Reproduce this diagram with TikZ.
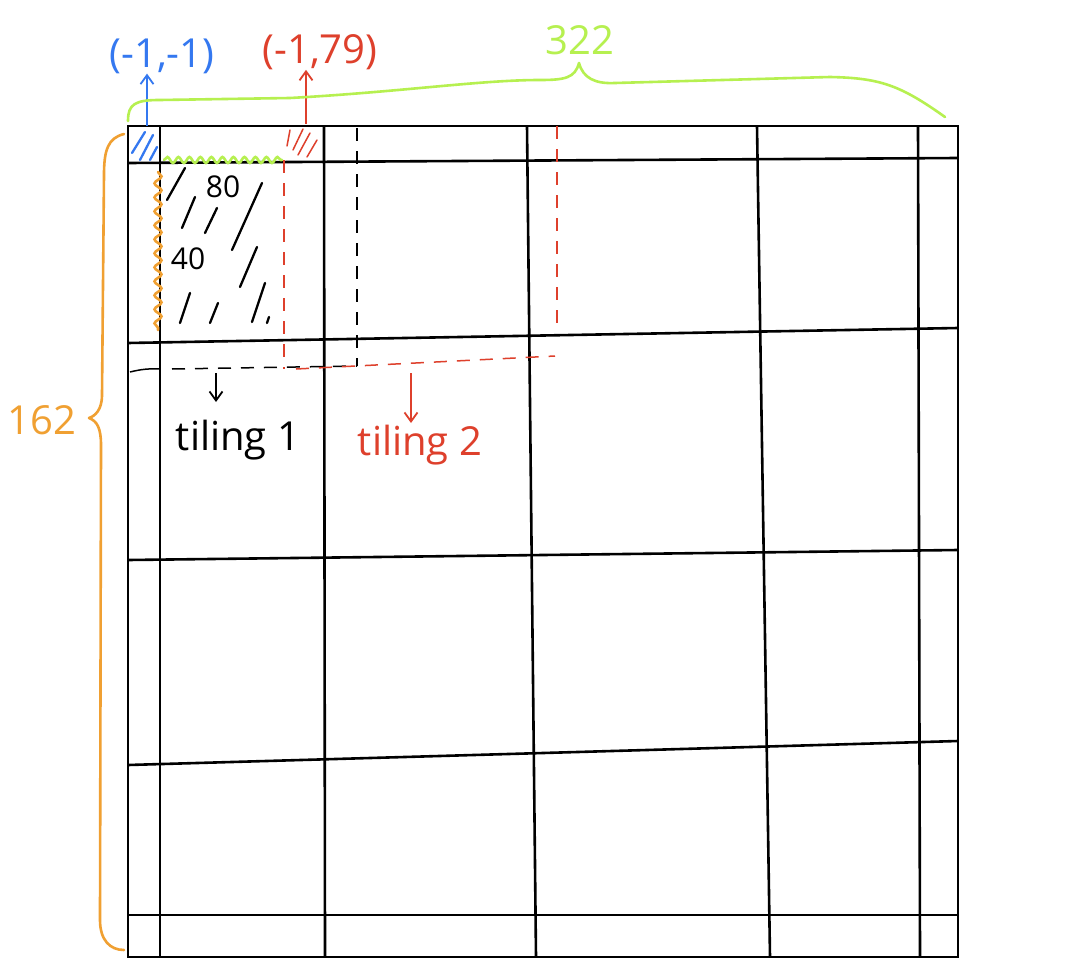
\documentclass[tikz,border=0pt]{standalone}
\usepackage{fontspec}
\setmainfont{Open Sans}
\usetikzlibrary{decorations.pathmorphing,arrows.meta}
\definecolor{hblue}{RGB}{52,120,240}
\definecolor{hred}{RGB}{222,64,44}
\definecolor{hgreen}{RGB}{182,240,80}
\definecolor{horange}{RGB}{240,160,50}
\tikzset{
  grid/.style={line width=2.6pt,black},
  hatch/.style={line width=2.3pt,line cap=round},
  dsh/.style={line width=1.5pt,dash pattern=on 13pt off 10pt},
  brace/.style={line width=2.6pt,line cap=round,line join=round},
  wavy/.style={line width=2.6pt,line cap=round,decorate,decoration={snake,amplitude=3pt,segment length=11pt}},
  arr/.style={line width=1.8pt,-{Straight Barb[length=9pt,width=13pt]}},
  lbl/.style={font=\fontsize{40}{44}\selectfont,inner sep=0pt}
}
\begin{document}
\begin{tikzpicture}[x=1pt,y=-1pt]
\useasboundingbox (0,0) rectangle (1081,979);
\fill[white] (0,0) rectangle (1081,979);
% grid
\draw[grid] (128,126) rectangle (958,957);
\draw[grid] (160,126) -- (160,957);
\draw[grid] (324,126) -- (325,957);
\draw[grid] (527,126) -- (536,957);
\draw[grid] (757,126) -- (770,957);
\draw[grid] (918,126) -- (920,957);
\draw[grid] (128,163) -- (958,158);
\draw[grid] (128,343) -- (958,328);
\draw[grid] (128,560) -- (958,550);
\draw[grid] (128,765) -- (958,741);
\draw[grid] (128,915) -- (958,915);
% blue hatch
\draw[hatch,hblue] (132,153) -- (145,132) (140,160) -- (153,135) (150,160) -- (157,147);
% red hatch
\draw[hatch,hred,line width=1.5pt] (287,146) -- (290,130) (293,150) -- (303,129) (298,155) -- (310,133) (307,157) -- (317,140);
% black hatch in tile 1
\draw[hatch] (167,200) -- (185,168) (182,228) -- (195,197) (205,233) -- (217,208)
  (232,250) -- (262,183) (240,287) -- (257,247) (180,323) -- (190,293)
  (210,323) -- (218,303) (252,322) -- (265,283) (267,323) -- (269,317);
\node[lbl,font=\fontsize{30}{34}\selectfont] (n80) at (223,187) {80};
\node[lbl,font=\fontsize{30}{34}\selectfont] (n40) at (188,259) {40};
% wavy edges
\draw[wavy,hgreen] (164,160) -- (282,160);
\draw[wavy,horange,decoration={snake,amplitude=3.5pt,segment length=14pt}] (158,172) -- (158,330);
% black dashed tiling 1
\draw[dsh] (357,128) -- (357,366);
\draw[dsh] (172,369) -- (357,366);
\draw[line width=1.5pt] (130,372) to[bend left=8] (160,369);
% red dashed tiling 2
\draw[dsh,hred] (284,160) -- (284,369);
\draw[dsh,hred] (296,369) -- (555,356);
\draw[dsh,hred] (557,126) -- (557,332);
% coordinates for arrows
\coordinate (bsrc) at (147,126);
\coordinate (rsrc) at (306,124);
\coordinate (t1src) at (216,373);
\coordinate (t2src) at (411,373);
% labels
\node[lbl,hblue] (lb) at (162,56) {(-1,-1)};
\node[lbl,hred] (lr) at (320,52) {(-1,79)};
\node[lbl,hgreen] (l322) at (580,40) {322};
\node[lbl,horange] (l162) at (42,420) {162};
\node[lbl,anchor=north] (t1) at (238,420) {tiling 1};
\node[lbl,anchor=north,hred] (t2) at (420,425) {tiling 2};
% arrows
\draw[arr,hblue] (bsrc) -- (lb.south -| bsrc);
\draw[arr,hred] (rsrc) -- (lr.south -| rsrc);
\draw[arr] (t1src) -- (216,402);
\draw[arr,hred] (t2src) -- (411,423);
% green brace
\draw[brace,hgreen] (128,121) .. controls (128,104) and (135,100) .. (160,100)
  -- (290,98) .. controls (400,92) and (480,80) .. (540,80)
  .. controls (565,80) and (575,78) .. (579,63)
  .. controls (583,78) and (595,84) .. (615,83)
  -- (830,77) .. controls (880,78) and (900,85) .. (945,117);
% orange brace
\draw[brace,horange] (124,134) .. controls (108,138) and (104,150) .. (104,175)
  -- (102,395) .. controls (102,410) and (95,416) .. (89,418)
  .. controls (97,421) and (101,428) .. (101,445)
  -- (100,920) .. controls (100,940) and (110,950) .. (124,950);
\end{tikzpicture}
\end{document}
